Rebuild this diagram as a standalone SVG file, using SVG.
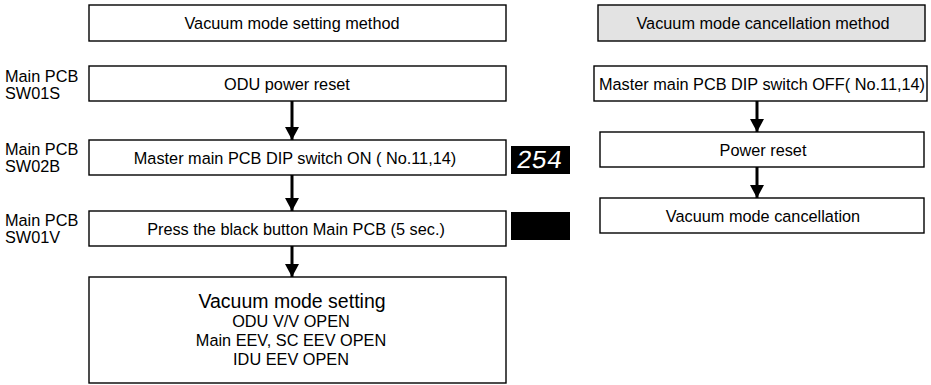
<svg xmlns="http://www.w3.org/2000/svg" width="931" height="385" viewBox="0 0 931 385">
<style>
text{font-family:"Liberation Sans",Arial,sans-serif;font-size:16.3px;fill:#000}
.c{text-anchor:middle}
.box{fill:#fff;stroke:#000;stroke-width:1.4}
.hdr{fill:#e3e3e3;stroke:#000;stroke-width:1.4}
.big{font-size:19.5px}
.conn line{stroke:#000;stroke-width:3}
.disp{fill:#000}
.dig{font-family:"Liberation Mono",monospace;font-size:26px;fill:#fff}
</style>
<defs>
<marker id="ah" viewBox="0 0 13 14" refX="13" refY="7" markerWidth="13" markerHeight="14" markerUnits="userSpaceOnUse" orient="auto">
<path d="M0,0 L13,7 L0,14 Z" fill="#000"/>
</marker>
</defs>

<g id="labels">
<text x="5" y="82">Main PCB</text>
<text x="5" y="99">SW01S</text>
<text x="5" y="155">Main PCB</text>
<text x="5" y="172">SW02B</text>
<text x="5" y="226">Main PCB</text>
<text x="5" y="243">SW01V</text>
</g>

<g id="set-header"><rect class="box" x="89" y="5" width="417" height="36"/><text class="c" x="292" y="29">Vacuum mode setting method</text></g>
<g id="odu-reset"><rect class="box" x="89" y="66" width="417" height="35"/><text class="c" x="287" y="90">ODU power reset</text></g>
<g id="dip-on"><rect class="box" x="89" y="140" width="417" height="35"/><text class="c" x="295" y="164">Master main PCB DIP switch ON ( No.11,14)</text></g>
<g id="press"><rect class="box" x="89" y="211" width="417" height="35"/><text class="c" x="296" y="235">Press the black button Main PCB (5 sec.)</text></g>
<g id="vac-set"><rect class="box" x="89" y="277" width="417" height="106"/>
<text class="c big" x="292" y="308">Vacuum mode setting</text>
<text class="c" x="291" y="327">ODU V/V OPEN</text>
<text class="c" x="291" y="346">Main EEV, SC EEV OPEN</text>
<text class="c" x="291" y="365">IDU EEV OPEN</text>
</g>

<g id="display1"><rect class="disp" x="511" y="146" width="59" height="28"/><text class="dig" x="540" y="168" text-anchor="middle" transform="skewX(-8) translate(22,0)" textLength="46">254</text></g>
<g id="display2"><rect class="disp" x="511" y="212" width="59" height="28"/></g>

<g id="cancel-header"><rect class="hdr" x="598" y="5" width="327" height="36"/><text class="c" x="763" y="29">Vacuum mode cancellation method</text></g>
<g id="dip-off"><rect class="box" x="594" y="66" width="333" height="35"/><text class="c" x="762" y="90">Master main PCB DIP switch OFF( No.11,14)</text></g>
<g id="power-reset"><rect class="box" x="600" y="132" width="324" height="35"/><text class="c" x="763" y="156">Power reset</text></g>
<g id="vac-cancel"><rect class="box" x="600" y="198" width="324" height="35"/><text class="c" x="763" y="222">Vacuum mode cancellation</text></g>

<g id="connectors" class="conn">
<line x1="292" y1="101" x2="292" y2="140" marker-end="url(#ah)"/>
<line x1="292" y1="175" x2="292" y2="211" marker-end="url(#ah)"/>
<line x1="292" y1="246" x2="292" y2="277" marker-end="url(#ah)"/>
<line x1="757" y1="101" x2="757" y2="132" marker-end="url(#ah)"/>
<line x1="757" y1="167" x2="757" y2="198" marker-end="url(#ah)"/>
</g>
</svg>
